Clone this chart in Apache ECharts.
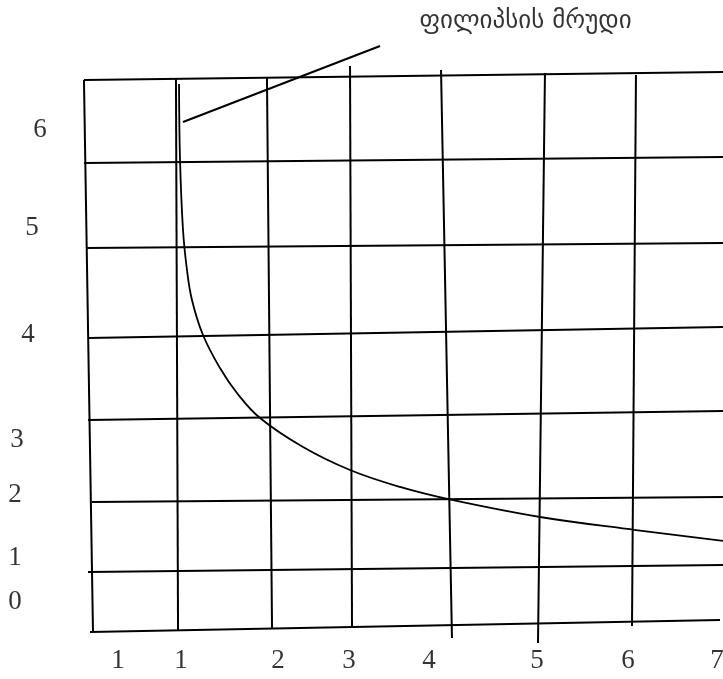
<!DOCTYPE html>
<html>
<head>
<meta charset="utf-8">
<title>ფილიპსის მრუდი</title>
<script src="https://cdn.jsdelivr.net/npm/echarts@6/dist/echarts.min.js"></script>
<style>
  html, body { margin: 0; padding: 0; background: #fff; }
  #chart { width: 723px; height: 679px; }
</style>
</head>
<body>
<div id="chart"></div>
<script>
// ხელით დახატული ბადე: ვერტიკალური ხაზები [ქვედა x, ქვედა y, ზედა x, ზედა y]
var vLines = [
  [0.029, 0.088, -0.071, 6.999],
  [0.970, 0.113, 0.947, 7.010],
  [2.010, 0.126, 1.954, 7.024],
  [2.895, 0.138, 2.873, 7.174],
  [4.001, 0.013, 3.880, 7.124],
  [4.953, -0.049, 5.030, 7.086],
  [5.993, 0.164, 6.037, 7.061]
];
// ჰორიზონტალური ხაზები [მარცხენა x, მარცხენა y, მარჯვენა x, მარჯვენა y]
var hLines = [
  [-0.004, 0.088, 6.967, 0.239],
  [-0.026, 0.840, 7.0, 0.927],
  [0.018, 1.716, 7.0, 1.778],
  [-0.026, 2.742, 7.0, 2.855],
  [-0.026, 3.769, 7.0, 3.907],
  [-0.048, 4.896, 7.0, 4.958],
  [-0.071, 5.960, 7.0, 6.035],
  [-0.071, 6.999, 7.0, 7.099]
];

// ფილიპსის მრუდი
var curveX = [0.981, 0.992, 1.025, 1.069, 1.124, 1.246, 1.434, 1.622, 1.877, 2.353, 2.873, 3.426, 4.001, 4.975, 6.037, 7.0];
var curveY = [6.949, 5.997, 5.121, 4.620, 4.245, 3.806, 3.393, 3.080, 2.767, 2.404, 2.116, 1.904, 1.741, 1.528, 1.365, 1.228];

// მიმთითებელი ხაზი და წარწერა
var pointerLine = [[1.025, 6.473], [3.205, 7.424]];
var noteText = 'ფილიპსის მრუდი';
var notePos = [4.815, 7.725];

// ღერძების წარწერები
var xTickLabels = ['1', '1', '2', '3', '4', '5', '6', '7'];
var xTickPos = [0.306, 1.003, 2.076, 2.862, 3.747, 4.942, 5.949, 6.934];
var xTickRow = -0.275;
var yTickLabels = ['6', '5', '4', '3', '2', '1', '0'];
var yTickPos = [6.373, 5.146, 3.806, 2.492, 1.803, 1.015, 0.464];
var yTickCol = [-0.557, -0.646, -0.690, -0.812, -0.834, -0.834, -0.834];

var myChart = echarts.init(document.getElementById('chart'));

var lineStyle = { color: '#000', width: 2 };
var series = [];

vLines.concat(hLines).forEach(function (l) {
  series.push({
    type: 'line',
    data: [[l[0], l[1]], [l[2], l[3]]],
    symbol: 'none',
    silent: true,
    lineStyle: lineStyle
  });
});

series.push({
  type: 'line',
  data: curveX.map(function (x, i) { return [x, curveY[i]]; }),
  smooth: 0.4,
  symbol: 'none',
  lineStyle: { color: '#000', width: 1.8 }
});

series.push({
  type: 'line',
  data: pointerLine,
  symbol: 'none',
  lineStyle: lineStyle
});

var labelData = [];
xTickLabels.forEach(function (t, i) { labelData.push([xTickPos[i], xTickRow, t]); });
yTickLabels.forEach(function (t, i) { labelData.push([yTickCol[i], yTickPos[i], t]); });

series.push({
  type: 'scatter',
  data: labelData,
  symbolSize: 0,
  clip: false,
  label: {
    show: true,
    position: 'inside',
    formatter: function (p) { return p.value[2]; },
    color: '#000',
    fontFamily: 'Liberation Serif, serif',
    fontSize: 27
  }
});

series.push({
  type: 'scatter',
  data: [[notePos[0], notePos[1], noteText]],
  symbolSize: 0,
  clip: false,
  label: {
    show: true,
    position: 'inside',
    formatter: function (p) { return p.value[2]; },
    color: '#000',
    fontFamily: 'DejaVu Sans, sans-serif',
    fontSize: 25
  }
});

var option = {
  animation: false,
  grid: { left: 0, right: 0, top: 0, bottom: 0 },
  xAxis: {
    type: 'value', min: -1, max: 7,
    axisLine: { show: false }, axisTick: { show: false },
    axisLabel: { show: false }, splitLine: { show: false }
  },
  yAxis: {
    type: 'value', min: -0.5, max: 8,
    axisLine: { show: false }, axisTick: { show: false },
    axisLabel: { show: false }, splitLine: { show: false }
  },
  series: series
};
myChart.setOption(option);
</script>
</body>
</html>
